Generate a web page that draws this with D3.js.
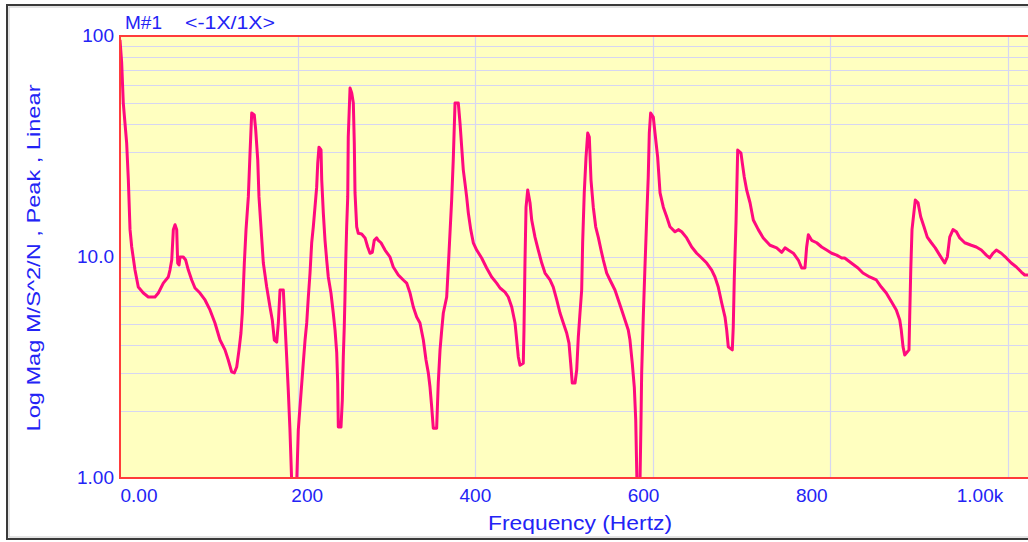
<!DOCTYPE html>
<html>
<head>
<meta charset="utf-8">
<script src="https://cdn.jsdelivr.net/npm/d3@7"></script>
<style>
  html, body { margin: 0; padding: 0; background: #ffffff; }
  svg { display: block; }
  text { font-family: "Liberation Sans", Arial, sans-serif; }
</style>
</head>
<body>
<svg id="chart" width="1028" height="542"></svg>
<script>
// ---- data (frequency in Hz, log magnitude M/S^2/N) ----
const freqHz = [0,1.9,3.7,7.5,9.4,11.3,13.2,16.9,20.6,26.3,31.9,39.4,43.2,48.8,54.4,56.3,58.3,60.1,62.0,63.9,65.0,66.5,67.6,71.3,74.0,77.0,80.8,84.5,90.1,95.8,101.4,107.0,112.7,118.3,122.0,125.8,128.8,131.5,134.1,136.3,137.8,140.1,142.0,144.6,146.5,148.4,151.3,152.9,155.2,156.6,158.5,161.5,165.3,169.0,171.6,173.9,176.6,178.4,180.3,184.0,185.9,187.8,189.6,191.5,193.5,199.1,
200.9,202.8,206.5,208.5,210.4,212.2,214.1,216.0,217.8,219.7,221.6,222.8,224.2,226.5,227.3,229.1,231.0,232.9,234.7,237.7,240.3,242.3,244.2,245.3,246.0,249.0,250.5,251.6,252.7,253.5,254.3,255.4,256.6,257.2,259.2,261.1,262.9,264.0,264.8,266.7,268.5,272.3,276.1,279.1,281.7,284.3,286.5,289.2,291.0,294.1,298.6,304.2,307.9,313.6,319.2,323.0,326.8,330.5,334.3,338.0,341.8,344.8,347.4,349.3,351.2,353.0,356.8,358.6,360.6,362.5,364.3,368.1,369.9,371.8,373.7,375.5,377.5,381.2,383.1,385.0,386.8,388.7,390.6,392.5,395.2,398.1,401.9,407.5,413.1,418.8,424.4,428.2,433.8,437.5,441.4,445.1,447.0,448.8,450.7,454.4,455.2,456.3,457.5,459.4,462.0,463.9,467.6,471.3,475.2,478.9,484.5,488.2,492.1,495.8,499.5,503.3,505.9,507.8,509.6,512.7,514.6,516.4,518.3,520.2,521.3,523.1,525.1,527.0,528.8,530.7,533.3,536.0,538.9,542.0,544.6,548.4,552.1,557.7,561.5,565.3,569.0,572.7,574.6,577.2,579.5,581.1,582.5,585.9,587.0,587.8,589.6,591.5,593.4,595.2,596.4,597.9,600.9,602.8,605.8,608.5,612.2,616.0,619.7,625.4,629.1,632.9,638.5,644.2,649.8,655.4,661.1,666.7,670.4,674.1,678.0,681.7,683.6,685.4,689.9,691.0,692.2,694.1,696.0,699.7,701.2,703.4,706.1,709.9,713.6,719.2,724.8,732.4,739.9,745.6,749.3,753.0,758.7,764.3,768.1,771.8,773.7,775.6,779.3,785.0,790.6,796.2,801.9,807.5,813.2,816.5,824.0,831.5,837.1,844.7,852.2,857.8,863.4,869.1,874.7,878.6,880.3,882.3,884.2,889.0,889.8,891.0,892.4,896.1,899.2,902.2,905.9,909.6,914.2,918.6,923.6,929.2,932.2,934.9,938.6,942.4,946.2,951.8,959.2,964.8,970.5,976.1,979.9,983.7,987.4,993.0,998.7,1004.3,1010.0,1015.6,1019.4,1023.1];

const magnitude = [96,75.5,49.7,32.8,22.3,13.3,11.1,8.73,7.31,6.87,6.59,6.59,6.87,7.62,8.12,8.73,9.69,13.3,14.0,13.3,9.39,9.20,10.0,10.0,9.69,8.73,7.87,7.24,6.87,6.39,5.76,5.03,4.21,3.80,3.42,3.02,2.99,3.18,3.80,4.53,5.58,9.39,13.3,18.7,29.5,44.8,43.9,37.6,27.5,18.7,14.3,9.39,7.31,5.94,5.19,4.21,4.12,5.03,7.09,7.09,5.03,3.53,2.50,1.65,0.95,0.95,
1.65,2.10,3.31,4.21,5.03,6.59,8.46,11.6,13.7,16.8,20.7,26.6,31.4,30.5,22.3,15.8,11.9,9.69,8.12,6.87,5.58,4.67,3.68,2.69,1.70,1.70,2.25,3.53,4.82,6.59,9.39,13.7,18.7,34.9,58.2,55.2,49.7,32.8,19.5,13.7,12.8,12.7,12.2,11.1,10.4,10.5,11.9,12.2,11.9,11.6,10.75,10.0,9.01,8.29,7.87,7.62,6.87,5.94,5.35,5.03,4.21,3.42,2.99,2.58,2.10,1.68,1.68,2.69,3.80,4.67,5.58,6.59,9.01,12.8,18.1,27.5,49.7,49.7,40.4,31.4,24.8,21.6,18.7,15.8,13.3,11.6,10.75,9.90,8.92,8.12,7.62,7.24,6.94,6.59,5.94,5.03,4.21,3.53,3.24,3.31,4.67,9.39,16.8,20.1,17.6,14.7,12.3,10.75,9.39,8.46,7.87,7.31,6.39,5.58,5.03,4.53,4.08,3.31,2.69,2.69,3.08,4.34,5.58,7.09,11.6,19.5,28.3,36.4,34.9,22.3,16.8,13.7,12.3,10.75,9.69,8.46,7.87,7.09,6.39,5.76,5.19,4.67,4.21,3.31,2.58,1.83,0.95,0.95,1.77,2.99,5.35,9.01,14.7,23.0,36.4,44.8,43.0,36.4,28.3,19.5,16.8,15.2,13.7,13.0,13.3,13.0,12.2,11.1,10.4,9.90,9.39,8.73,8.12,7.31,6.19,5.35,4.67,3.92,3.80,4.82,8.12,14.3,30.5,29.5,26.6,23.0,20.1,17.6,14.7,13.3,12.2,11.3,11.0,10.5,11.0,10.75,10.4,9.69,8.92,8.92,11.1,12.6,11.9,11.6,11.1,10.75,10.4,10.2,9.90,9.90,9.39,8.92,8.46,8.12,7.87,7.31,6.87,6.29,5.76,5.19,4.67,3.92,3.60,3.80,5.35,8.73,13.3,18.1,17.6,15.2,13.7,12.3,11.6,11.0,10.2,9.39,10.0,12.3,13.3,13.0,12.2,11.6,11.3,11.1,10.75,10.2,9.90,10.4,10.75,10.4,9.90,9.39,9.01,8.55,8.29,8.29];

const xTickValues = [0, 200, 400, 600, 800, 1000];
const xTickLabels = ["0.00", "200", "400", "600", "800", "1.00k"];
const yTickValues = [1, 10, 100];
const yTickLabels = ["1.00", "10.0", "100"];
const yGridValues = [2,3,4,5,6,7,8,9,10,20,30,40,50,60,70,80,90];
const xGridValues = [200, 400, 600, 800, 1000];
const titleText = "M#1";
const subtitleText = "<-1X/1X>";
const xTitle = "Frequency (Hertz)";
const yTitle = "Log Mag M/S^2/N , Peak , Linear";

// ---- layout ----
const svg = d3.select("#chart");
const L = 120, T = 36, B = 478, R = 1032;
const x = d3.scaleLinear().domain([0, 1000]).range([L, 1007.5]);
const y = d3.scaleLog().domain([1, 100]).range([B, T]);
// label placement scale (labels are spread evenly under the axis)
const xLabelPos = d3.scaleLinear().domain([0, 1000]).range([139, 980]);

const blue = "#2323f5";

// outer frame
svg.append("rect").attr("x", 7).attr("y", 5).attr("width", 1040).attr("height", 534)
  .attr("fill", "#ffffff").attr("stroke", "#3a3a3a").attr("stroke-width", 2);
svg.append("rect").attr("x", 9).attr("y", 7).attr("width", 1040).attr("height", 530)
  .attr("fill", "none").attr("stroke", "#c8c8c8").attr("stroke-width", 1);

// plot background
svg.append("rect").attr("x", L).attr("y", T).attr("width", R - L).attr("height", B - T)
  .attr("fill", "#ffffc0");

// grid
const grid = svg.append("g").attr("stroke", "#d6d6f2").attr("stroke-width", 1.2);
grid.selectAll("line.h").data(yGridValues).join("line")
  .attr("x1", L).attr("x2", R)
  .attr("y1", d => Math.round(y(d)) + 0.5).attr("y2", d => Math.round(y(d)) + 0.5);
grid.selectAll("line.v").data(xGridValues).join("line")
  .attr("y1", T).attr("y2", B)
  .attr("x1", d => Math.round(x(d)) + 0.5).attr("x2", d => Math.round(x(d)) + 0.5);

// clip
svg.append("clipPath").attr("id", "plotclip").append("rect")
  .attr("x", L).attr("y", T).attr("width", R - L).attr("height", B - T);

const pts = freqHz.map((f, i) => [f, magnitude[i]]);
const line = d3.line().x(d => x(d[0])).y(d => y(Math.max(d[1], 0.5)));
svg.append("path").datum(pts)
  .attr("clip-path", "url(#plotclip)")
  .attr("d", line)
  .attr("fill", "none")
  .attr("stroke", "#ff0a7e")
  .attr("stroke-width", 3)
  .attr("stroke-linejoin", "round");

// red plot border (left, top, bottom)
svg.append("path")
  .attr("d", `M${R},${T}H${L}V${B}H${R}`)
  .attr("fill", "none").attr("stroke", "#ff3b3b").attr("stroke-width", 2);

// y tick labels
svg.append("g").selectAll("text").data(yTickValues).join("text")
  .attr("x", 114).attr("y", d => y(d) + 6)
  .attr("text-anchor", "end").attr("fill", blue).attr("font-size", 19)
  .text((d, i) => yTickLabels[i]);

// x tick labels
svg.append("g").selectAll("text").data(xTickValues).join("text")
  .attr("x", d => xLabelPos(d)).attr("y", 502)
  .attr("text-anchor", "middle").attr("fill", blue).attr("font-size", 19)
  .text((d, i) => xTickLabels[i]);

// titles
svg.append("text").attr("x", 125).attr("y", 29).attr("fill", blue).attr("font-size", 19)
  .text(titleText);
svg.append("text").attr("x", 185).attr("y", 29).attr("fill", blue).attr("font-size", 19)
  .attr("textLength", 90).attr("lengthAdjust", "spacingAndGlyphs")
  .text(subtitleText);

svg.append("text").attr("x", 580).attr("y", 530).attr("text-anchor", "middle")
  .attr("fill", blue).attr("font-size", 20)
  .attr("textLength", 184).attr("lengthAdjust", "spacingAndGlyphs")
  .text(xTitle);

svg.append("text")
  .attr("transform", "translate(40,258) rotate(-90)")
  .attr("text-anchor", "middle").attr("fill", blue).attr("font-size", 19)
  .attr("textLength", 347).attr("lengthAdjust", "spacingAndGlyphs")
  .text(yTitle);
</script>
</body>
</html>
